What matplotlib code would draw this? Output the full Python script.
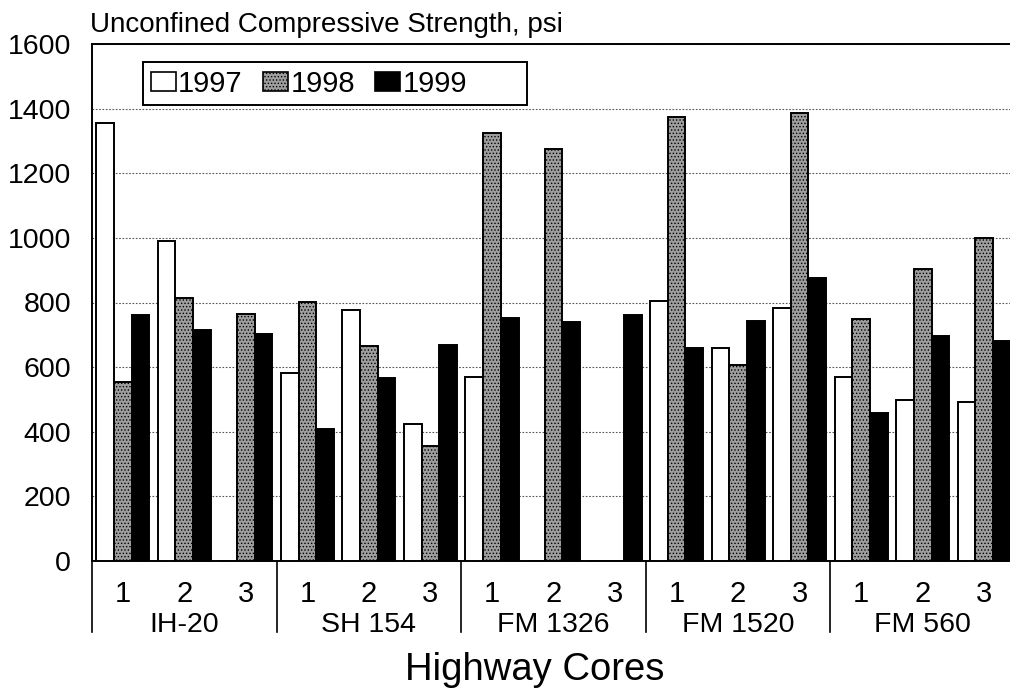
import numpy as np
import matplotlib
matplotlib.use('Agg')
import matplotlib.pyplot as plt
from matplotlib.patches import Rectangle, Patch
from matplotlib.transforms import blended_transform_factory

HIGHWAYS = ['IH-20', 'SH 154', 'FM 1326', 'FM 1520', 'FM 560']
CORES = ['1', '2', '3']
YEARS = ['1997', '1998', '1999']

# unconfined compressive strength, psi (one value per highway core)
strength_1997 = [1354, 990, 0, 581, 778, 425, 568, 0, 0, 806, 659, 783, 568, 498, 491]
strength_1998 = [554, 815, 765, 803, 666, 355, 1326, 1275, 0, 1373, 607, 1387, 750, 903, 1001]
strength_1999 = [760, 716, 702, 410, 567, 670, 753, 741, 762, 658, 744, 877, 459, 696, 680]

FILLS = ['white', '#9e9e9e', 'black']
FONT = 'Liberation Sans'


def main():
    plt.rcParams['font.family'] = FONT
    plt.rcParams['hatch.linewidth'] = 0.6

    fig = plt.figure(figsize=(10.1, 6.89), dpi=100)
    ax = fig.add_axes([92 / 1010, (689 - 561) / 689, 923 / 1010, 517 / 689])

    n_groups = len(HIGHWAYS) * len(CORES)
    centers = np.arange(n_groups) + 0.5
    width = 0.2876
    series = [strength_1997, strength_1998, strength_1999]
    for k, (vals, fill) in enumerate(zip(series, FILLS)):
        hatch = '.....' if k == 1 else None
        ax.bar(centers + (k - 1) * width, vals, width=width, color=fill,
               edgecolor='black', linewidth=1.4, hatch=hatch, zorder=3)

    ax.set_xlim(0, n_groups)
    ax.set_ylim(0, 1600)
    ax.set_yticks(np.arange(0, 1601, 200))
    ax.tick_params(axis='y', length=0, pad=15, labelsize=20.5)
    ax.set_xticks([])
    ax.yaxis.grid(True, linestyle=(0, (1.5, 1.5)), color='#555555', linewidth=0.8, zorder=0)
    for side in ['top', 'left', 'bottom']:
        ax.spines[side].set_linewidth(1.4)
    ax.spines['right'].set_visible(False)

    # two-level category axis
    trans = blended_transform_factory(ax.transData, ax.transAxes)
    for i, c in enumerate(centers):
        ax.text(c, -0.079, CORES[i % 3], transform=trans, ha='center',
                va='baseline', fontsize=21)
    for j, name in enumerate(HIGHWAYS):
        ax.text(3 * j + 1.5, -0.138, name, transform=trans, ha='center',
                va='baseline', fontsize=20.5)
        ax.plot([3 * j, 3 * j], [0, -0.137], transform=trans, color='black',
                linewidth=1.2, clip_on=False)

    fig.text(535 / 1010, (689 - 680) / 689, 'Highway Cores', ha='center',
             va='baseline', fontsize=27.5)
    fig.text(90 / 1010, (689 - 32) / 689, 'Unconfined Compressive Strength, psi',
             ha='left', va='baseline', fontsize=20)

    # legend with a wide frame
    frame = Rectangle((143 / 1010, (689 - 105) / 689), 384 / 1010, 43 / 689,
                      transform=fig.transFigure, facecolor='white',
                      edgecolor='black', linewidth=1.4, zorder=5)
    fig.patches.append(frame)
    handles = [Patch(facecolor=f, edgecolor='black', linewidth=1.2,
                     hatch='.....' if k == 1 else None) for k, f in enumerate(FILLS)]
    leg = fig.legend(handles, YEARS, loc='center left',
                     bbox_to_anchor=(151 / 1010, (689 - 83.5) / 689),
                     ncol=3, frameon=False, fontsize=21, handlelength=0.85,
                     handleheight=0.65, handletextpad=0.08, columnspacing=0.7,
                     borderpad=0, borderaxespad=0)
    leg.set_zorder(6)

    fig.savefig('out.png', dpi=100)


if __name__ == '__main__':
    main()
